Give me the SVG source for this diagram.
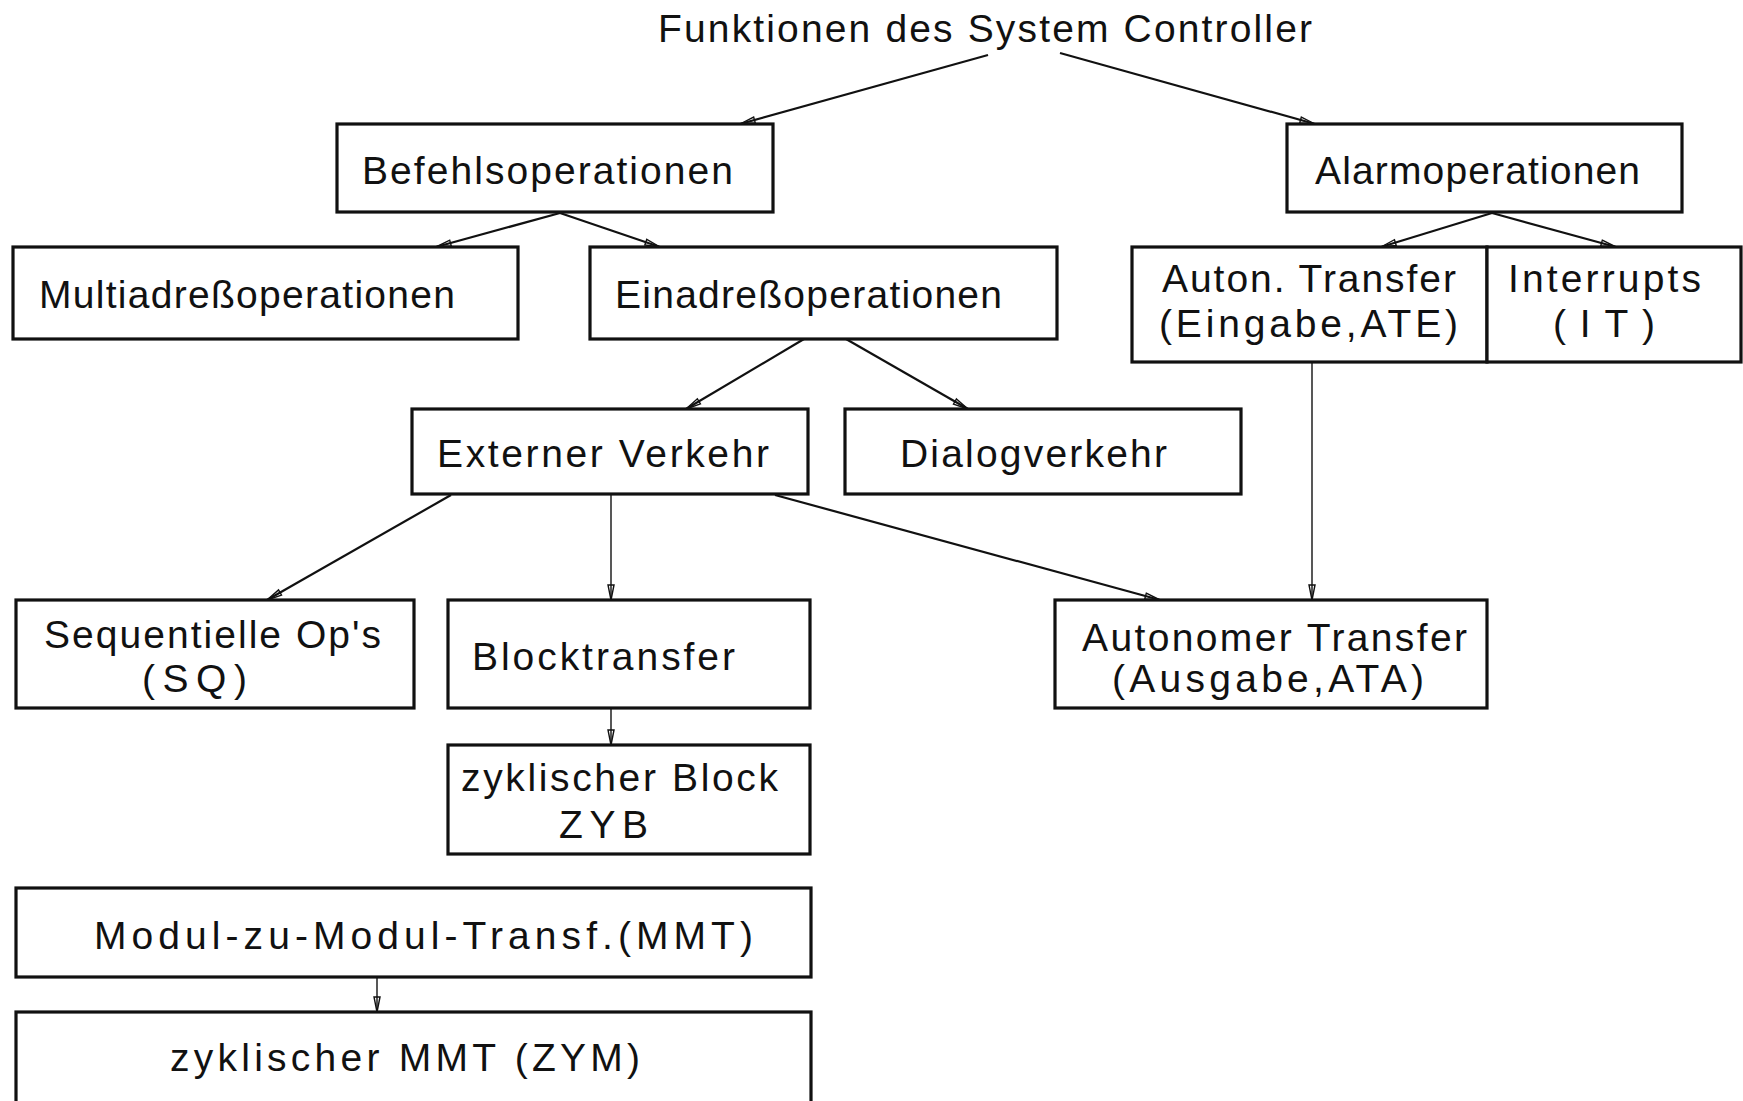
<svg xmlns="http://www.w3.org/2000/svg" width="1743" height="1101" viewBox="0 0 1743 1101">
<defs>
<style>
.box{fill:#fff;stroke:#111;stroke-width:3.2}
.t{font-family:"Liberation Sans","DejaVu Sans",Arial,sans-serif;font-size:39px;fill:#111}
.c{stroke:#111;stroke-width:2.2;fill:none;marker-end:url(#ah)}
.v{stroke:#111;stroke-width:1.4;fill:none;marker-end:url(#ah)}
</style>
<marker id="ah" viewBox="0 0 15 8" markerWidth="15" markerHeight="8" refX="15" refY="4" orient="auto" markerUnits="userSpaceOnUse" overflow="visible">
<path d="M0,1 L15,4 L0,7 Z" fill="none" stroke="#111" stroke-width="1.4"/>
</marker>
</defs>
<rect width="1743" height="1101" fill="#fff"/>

<g id="title">
<text class="t" x="658" y="42" textLength="654" lengthAdjust="spacing">Funktionen des System Controller</text>
</g>

<g id="connectors">
<line class="c" x1="988" y1="55" x2="740" y2="124"/>
<line class="c" x1="1060" y1="53" x2="1315" y2="124"/>
<line class="c" x1="560" y1="213" x2="436" y2="247"/>
<line class="c" x1="560" y1="213" x2="660" y2="247"/>
<line class="c" x1="1492" y1="213" x2="1381" y2="247"/>
<line class="c" x1="1492" y1="213" x2="1616" y2="247"/>
<line class="c" x1="804" y1="339" x2="686" y2="409"/>
<line class="c" x1="846" y1="339" x2="968" y2="409"/>
<line class="c" x1="451" y1="495" x2="267" y2="600"/>
<line class="v" x1="611" y1="495" x2="611" y2="600"/>
<line class="c" x1="775" y1="495" x2="1160" y2="600"/>
<line class="v" x1="1312" y1="362" x2="1312" y2="600"/>
<line class="v" x1="611" y1="708" x2="611" y2="745"/>
<line class="v" x1="377" y1="977" x2="377" y2="1012"/>
</g>

<g id="befehlsoperationen">
<rect class="box" x="337" y="124" width="436" height="88"/>
<text class="t" x="362" y="184" textLength="371" lengthAdjust="spacing">Befehlsoperationen</text>
</g>
<g id="alarmoperationen">
<rect class="box" x="1287" y="124" width="395" height="88"/>
<text class="t" x="1315" y="184" textLength="325" lengthAdjust="spacing">Alarmoperationen</text>
</g>
<g id="multiadressoperationen">
<rect class="box" x="13" y="247" width="505" height="92"/>
<text class="t" x="39" y="308" textLength="416" lengthAdjust="spacing">Multiadreßoperationen</text>
</g>
<g id="einadressoperationen">
<rect class="box" x="590" y="247" width="467" height="92"/>
<text class="t" x="615" y="308" textLength="387" lengthAdjust="spacing">Einadreßoperationen</text>
</g>
<g id="auton-transfer-eingabe">
<rect class="box" x="1132" y="247" width="355" height="115"/>
<text class="t" x="1162" y="292" textLength="294" lengthAdjust="spacing">Auton. Transfer</text>
<text class="t" x="1159" y="337" textLength="299" lengthAdjust="spacing">(Eingabe,ATE)</text>
</g>
<g id="interrupts">
<rect class="box" x="1487" y="247" width="254" height="115"/>
<text class="t" x="1508" y="292" textLength="193" lengthAdjust="spacing">Interrupts</text>
<text class="t" x="1553" y="337" textLength="102" lengthAdjust="spacing">(IT)</text>
</g>
<g id="externer-verkehr">
<rect class="box" x="412" y="409" width="396" height="85"/>
<text class="t" x="437" y="467" textLength="332" lengthAdjust="spacing">Externer Verkehr</text>
</g>
<g id="dialogverkehr">
<rect class="box" x="845" y="409" width="396" height="85"/>
<text class="t" x="900" y="467" textLength="267" lengthAdjust="spacing">Dialogverkehr</text>
</g>
<g id="sequentielle-ops">
<rect class="box" x="16" y="600" width="398" height="108"/>
<text class="t" x="44" y="648" textLength="337" lengthAdjust="spacing">Sequentielle Op's</text>
<text class="t" x="142" y="692" textLength="105" lengthAdjust="spacing">(SQ)</text>
</g>
<g id="blocktransfer">
<rect class="box" x="448" y="600" width="362" height="108"/>
<text class="t" x="472" y="670" textLength="263" lengthAdjust="spacing">Blocktransfer</text>
</g>
<g id="autonomer-transfer">
<rect class="box" x="1055" y="600" width="432" height="108"/>
<text class="t" x="1082" y="651" textLength="385" lengthAdjust="spacing">Autonomer Transfer</text>
<text class="t" x="1112" y="692" textLength="312" lengthAdjust="spacing">(Ausgabe,ATA)</text>
</g>
<g id="zyklischer-block">
<rect class="box" x="448" y="745" width="362" height="109"/>
<text class="t" x="461" y="791" textLength="317" lengthAdjust="spacing">zyklischer Block</text>
<text class="t" x="559" y="838" textLength="89" lengthAdjust="spacing">ZYB</text>
</g>
<g id="mmt">
<rect class="box" x="16" y="888" width="795" height="89"/>
<text class="t" x="94" y="949" textLength="659" lengthAdjust="spacing">Modul-zu-Modul-Transf.(MMT)</text>
</g>
<g id="zym">
<rect class="box" x="16" y="1012" width="795" height="95"/>
<text class="t" x="170" y="1071" textLength="470" lengthAdjust="spacing">zyklischer MMT (ZYM)</text>
</g>
</svg>
